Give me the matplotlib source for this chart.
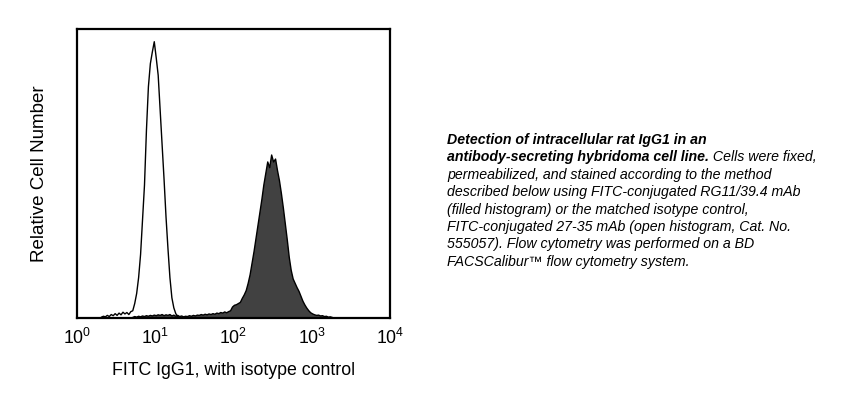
import numpy as np
import matplotlib
matplotlib.use("Agg")
import matplotlib.pyplot as plt

plt.rcParams['font.family'] = ['Liberation Sans', 'DejaVu Sans']

# ---- data (log10 fluorescence channels, bin width 0.025 decades) ----
bin_width = 0.025

isotype_start = 0.300
isotype_counts = [
    0.3, 0.6, 0.4, 0.9, 0.5, 1.2, 0.8, 1.5, 0.9, 1.7,
    1.1, 2.0, 1.4, 1.9, 1.2, 2.2, 2.5, 5.0, 8.5, 14.0,
    22.0, 34.0, 46.0, 65.0, 80.0, 88.0, 92.0, 95.6, 90.0, 84.0,
    72.0, 60.0, 48.0, 35.0, 24.0, 14.0, 7.0, 3.5, 1.5, 0.5,
]

stained_start = 0.700
stained_counts = [
    0.2, 0.5, 0.3, 0.6, 0.4, 0.7, 0.5, 0.8, 0.6, 0.9,
    0.7, 1.0, 0.8, 1.1, 0.9, 1.2, 0.8, 1.1, 0.9, 1.2,
    0.7, 1.0, 0.6, 0.9, 0.5, 0.7, 0.4, 0.6, 0.5, 0.8,
    0.6, 0.9, 0.7, 1.0, 0.9, 1.2, 1.0, 1.3, 1.1, 1.4,
    1.2, 1.5, 1.3, 1.7, 1.5, 1.9, 1.7, 2.1, 1.8, 2.2,
    2.5, 3.8, 4.4, 4.6, 5.0, 5.4, 6.8, 8.0, 9.5, 12.0,
    15.0, 19.0, 23.0, 27.5, 32.0, 36.5, 41.0, 46.0, 50.0, 54.0,
    52.0, 56.4, 54.0, 55.0, 51.0, 47.5, 43.0, 38.0, 32.5, 27.0,
    21.0, 16.5, 13.5, 12.0, 10.5, 9.2, 7.5, 5.8, 4.5, 3.4,
    2.5, 1.8, 1.4, 1.1, 0.9, 1.0, 0.7, 0.8, 0.5, 0.6,
    0.3, 0.4, 0.2,
]

x_label = "FITC IgG1, with isotype control"
y_label = "Relative Cell Number"

caption_bold_1 = "Detection of intracellular rat IgG1 in an"
caption_bold_2 = "antibody-secreting hybridoma cell line."
caption_rest_2 = " Cells were fixed,"
caption_lines = [
    "permeabilized, and stained according to the method",
    "described below using FITC-conjugated RG11/39.4 mAb",
    "(filled histogram) or the matched isotype control,",
    "FITC-conjugated 27-35 mAb (open histogram, Cat. No.",
    "555057). Flow cytometry was performed on a BD",
    "FACSCalibur\u2122 flow cytometry system.",
]

# ---- figure ----
W, H = 843, 395
fig = plt.figure(figsize=(W / 100, H / 100), dpi=100)
ax = fig.add_axes([77 / W, 1 - 318 / H, 313 / W, 289 / H])


def curve(start, counts):
    n = len(counts)
    centers = start + bin_width * (np.arange(n) + 0.5)
    xs = np.concatenate([[start], centers, [start + bin_width * n]])
    ys = np.concatenate([[0], counts, [0]])
    return 10 ** xs, ys


sx, sy = curve(stained_start, stained_counts)
ix, iy = curve(isotype_start, isotype_counts)

ax.fill_between(sx, 0, sy, facecolor='#414141', edgecolor='none', zorder=2)
ax.plot(sx, sy, color='black', linewidth=1.0, zorder=3)
ax.plot(ix, iy, color='black', linewidth=1.0, zorder=4)

ax.set_xscale('log')
ax.set_xlim(1, 1e4)
ax.set_ylim(0, 100)
ax.set_yticks([])
ax.set_xticks([1, 10, 100, 1000, 10000])
ax.minorticks_off()
ax.tick_params(axis='x', length=0, pad=7, labelsize=12.8)
for s in ax.spines.values():
    s.set_linewidth(1.6)
    s.set_color('black')
    s.set_zorder(5)

ax.set_xlabel(x_label, fontsize=12.8, labelpad=10)
ax.set_ylabel(y_label, fontsize=13.5, labelpad=21)

# ---- caption ----
cx = 447 / W
fs = 10.2
line_h = 17.4
y0 = 140
renderer = fig.canvas.get_renderer()
fig.text(cx, 1 - y0 / H, caption_bold_1, fontsize=fs, fontweight='bold',
         style='italic', va='center', ha='left')
tb = fig.text(cx, 1 - (y0 + line_h) / H, caption_bold_2, fontsize=fs,
              fontweight='bold', style='italic', va='center', ha='left')
bb = tb.get_window_extent(renderer)
fig.text(bb.x1 / W, 1 - (y0 + line_h) / H, caption_rest_2, fontsize=fs,
         style='italic', va='center', ha='left')
for i, line in enumerate(caption_lines):
    fig.text(cx, 1 - (y0 + line_h * (i + 2)) / H, line, fontsize=fs,
             style='italic', va='center', ha='left')

fig.savefig('out.png', dpi=100)
